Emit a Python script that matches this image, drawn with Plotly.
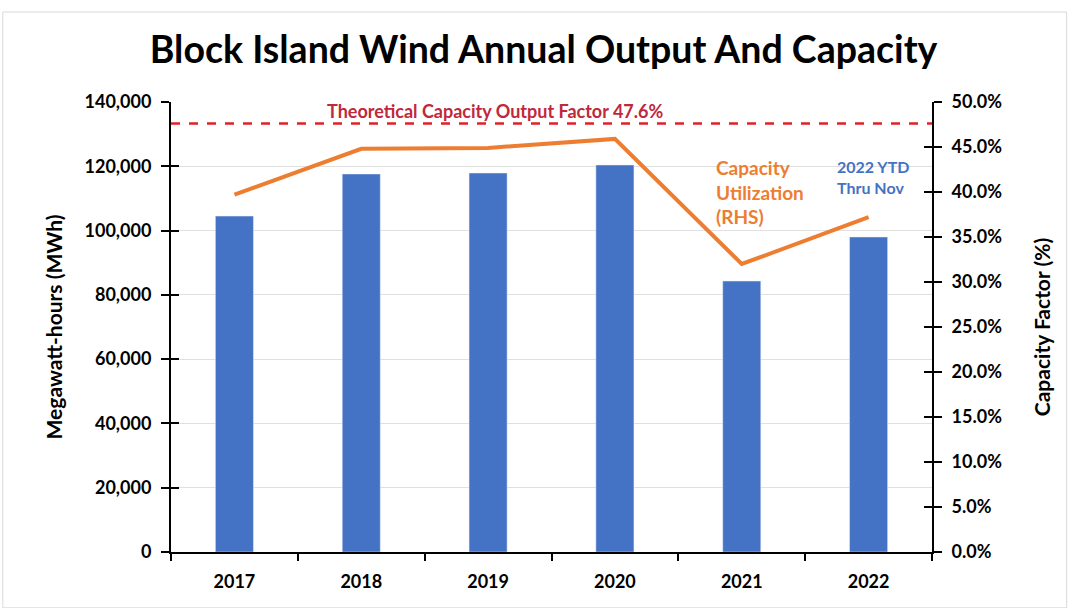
import plotly.graph_objects as go

years = ["2017", "2018", "2019", "2020", "2021", "2022"]
output_mwh = [104500, 117600, 117900, 120400, 84300, 98000]
capacity_factor = [0.397, 0.448, 0.449, 0.459, 0.320, 0.372]
theoretical_cf = 0.476

FONT = "Lato"
bar_color = "#4472C4"
line_color = "#ED7D31"
red = "#E0202A"

fig = go.Figure()
fig.add_trace(go.Bar(x=years, y=output_mwh, marker_color=bar_color, width=0.3,
                     name="Output", yaxis="y"))
fig.add_trace(go.Scatter(x=years, y=capacity_factor, mode="lines",
                         line=dict(color=line_color, width=4), name="CF", yaxis="y2"))
# invisible helper traces so the inner tick axes render
fig.add_trace(go.Scatter(x=years[:1], y=[0], mode="markers", marker=dict(opacity=0),
                         hoverinfo="skip", yaxis="y3"))
fig.add_trace(go.Scatter(x=years[:1], y=[0], mode="markers", marker=dict(opacity=0),
                         hoverinfo="skip", yaxis="y4"))

fig.add_shape(type="line", xref="paper", x0=0, x1=1, yref="y2", y0=theoretical_cf, y1=theoretical_cf,
              line=dict(color=red, width=2.5, dash="dash"))
# outer border
fig.add_shape(type="rect", xref="paper", yref="paper", x0=-0.221, x1=1.177, y0=-0.124, y1=1.2,
              line=dict(color="#D9D9D9", width=1))

fig.add_annotation(text="<b>Theoretical Capacity Output Factor 47.6%</b>", xref="paper", yref="y2",
                   x=0.203, y=0.476, yanchor="bottom", xanchor="left", showarrow=False, yshift=0,
                   font=dict(family=FONT, size=18, color="#C0283C"))
fig.add_annotation(text="<b>Capacity<br>Utilization<br>(RHS)</b>", xref="paper", yref="paper",
                   x=0.714, y=0.885, xanchor="left", yanchor="top", align="left", showarrow=False,
                   font=dict(family=FONT, size=19, color=line_color))
fig.add_annotation(text="<b>2022 YTD<br>Thru Nov</b>", xref="paper", yref="paper",
                   x=0.872, y=0.882, xanchor="left", yanchor="top", align="left", showarrow=False,
                   font=dict(family=FONT, size=16, color=bar_color))

tickf = dict(family=FONT, size=18, color="black", weight="bold")
titlef = dict(family=FONT, size=21, color="black", weight="bold")

fig.update_layout(
    width=1070, height=608,
    margin=dict(l=171, r=138, t=102, b=56),
    paper_bgcolor="white", plot_bgcolor="white",
    showlegend=False,
    title=dict(text="<b>Block Island Wind Annual Output And Capacity</b>", x=0.508, xanchor="center",
               y=0.918, yanchor="middle", font=dict(family=FONT, size=37.5, color="black")),
    xaxis=dict(type="category", showline=True, linecolor="black", linewidth=2,
               ticks="outside", tickson="boundaries", ticklen=7, tickwidth=2, tickcolor="black",
               tickfont=tickf, ticklabelstandoff=12, showgrid=False),
    yaxis=dict(range=[0, 140000], dtick=20000, tickformat=",", showline=True, linecolor="black",
               linewidth=2, ticks="outside", ticklen=8, tickwidth=2, tickcolor="black",
               showgrid=True, gridcolor="#E0E0E0", gridwidth=1, zeroline=False,
               tickfont=tickf, ticklabelstandoff=6,
               title=dict(text="Megawatt-hours (MWh)", font=titlef, standoff=16)),
    yaxis2=dict(range=[0, 0.5], dtick=0.05, tickformat=".1%", overlaying="y", side="right",
                showline=True, linecolor="black", linewidth=2, ticks="outside", ticklen=8, tickwidth=2,
                tickcolor="black", showgrid=False, zeroline=False,
                tickfont=tickf, ticklabelstandoff=6,
                title=dict(text="Capacity Factor (%)", font=titlef, standoff=34)),
    yaxis3=dict(range=[0, 140000], dtick=20000, overlaying="y", side="left", ticks="inside",
                ticklen=8, tickwidth=2, tickcolor="black", showticklabels=False, showgrid=False,
                zeroline=False, showline=False),
    yaxis4=dict(range=[0, 0.5], dtick=0.05, overlaying="y", side="right", ticks="inside",
                ticklen=8, tickwidth=2, tickcolor="black", showticklabels=False, showgrid=False,
                zeroline=False, showline=False),
)

fig.write_html("out.html")
